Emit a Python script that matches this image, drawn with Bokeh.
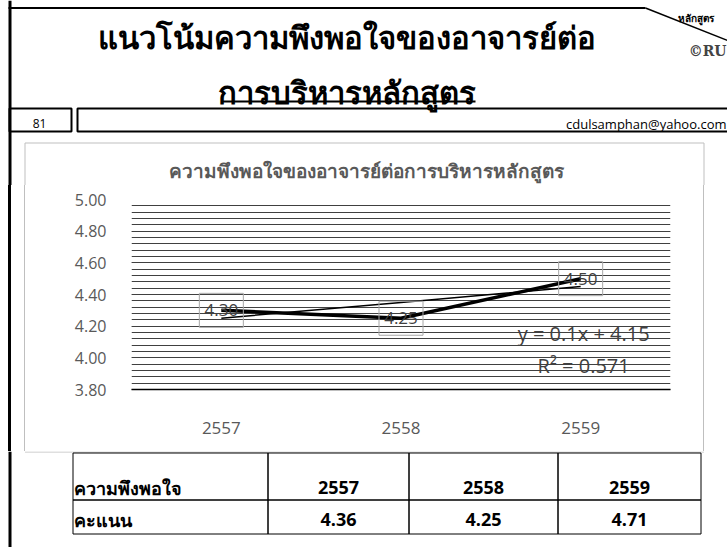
import numpy as np
from bokeh.plotting import figure
from bokeh.layouts import column, row
from bokeh.models import (Range1d, FactorRange, SingleIntervalTicker, NumeralTickFormatter,
                          ColumnDataSource)
from bokeh.core.properties import value
from bokeh.embed import file_html
from bokeh.resources import INLINE

# ---------------- data ----------------
years = ["2557", "2558", "2559"]
satisfaction = [4.30, 4.25, 4.50]
point_labels = ["4.30", "4.25", "4.50"]
y_min, y_max, y_step = 3.80, 5.00, 0.20

slide_title_1 = "แนวโน้มความพึงพอใจของอาจารย์ต่อ"
slide_title_2 = "การบริหารหลักสูตร"
chart_title = "ความพึงพอใจของอาจารย์ต่อการบริหารหลักสูตร"
slide_number = "81"
email = "cdulsamphan@yahoo.com"
corner_tag = "หลักสูตร"
logo_text = "©RU"

table_header = ["ความพึงพอใจ", "2557", "2558", "2559"]
table_scores = ["คะแนน", "4.36", "4.25", "4.71"]

# linear trend (as computed by the spreadsheet)
idx = np.arange(1, len(satisfaction) + 1)
slope, intercept = np.polyfit(idx, satisfaction, 1)
trend = list(intercept + slope * idx)
obs = np.array(satisfaction)
r2 = 1 - ((obs - np.array(trend)) ** 2).sum() / ((obs - obs.mean()) ** 2).sum()
eq_text = f"y = {slope:.1f}x + {intercept:.2f}"
r2_text = f"R² = {r2:.3f}"

FONT = "Open Sans"
GREY = "#595959"
BORDER = "#bfbfbf"
W = 727


def deco(width, height):
    """A drawing surface whose frame fills the whole canvas (pixel coordinates, y down)."""
    f = figure(width=width, height=height, output_backend="svg", toolbar_location=None,
               x_range=Range1d(0, width), y_range=Range1d(height, 0),
               x_axis_location=None, y_axis_location=None,
               min_border_left=0, min_border_right=0, min_border_top=0, min_border_bottom=0)
    f.outline_line_color = None
    f.grid.visible = False
    f.background_fill_color = "white"
    f.border_fill_color = "white"
    return f


def txt(f, x, y, s, size, align="center", baseline="middle", bold=False, color="black", font=FONT):
    f.text(x=[x], y=[y], text=[s], text_align=align, text_baseline=baseline,
           text_font=value(font), text_font_size=f"{size}px",
           text_font_style="bold" if bold else "normal", text_color=color)


def rect(f, l, r, t, b, line="black", lw=1, fill=None):
    f.quad(left=[l], right=[r], top=[t], bottom=[b],
           fill_color=fill, fill_alpha=1 if fill else 0,
           line_color=line, line_width=lw, line_alpha=1 if line else 0)


# ---------------- top: slide header + chart title (page y 0..185) ----------------
TOP_H = 185
A = deco(W, TOP_H)
rect(A, 8, 11, 0, TOP_H, line=None, fill="black")          # slide left frame
rect(A, 8, 645, 6.5, 8.5, line=None, fill="black")         # slide top frame
A.segment(x0=[645], y0=[7.5], x1=[727], y1=[40], line_color="black", line_width=1.5)
txt(A, 695, 17, corner_tag, 10, bold=True)
txt(A, 726, 50, logo_text, 14, align="right", bold=True, color="#444444", font="DejaVu Serif")
txt(A, 346, 36, slide_title_1, 31, baseline="alphabetic", bold=True)
txt(A, 346, 91, slide_title_2, 31, baseline="alphabetic", bold=True)
rect(A, 222, 475, 100, 102, line=None, fill="black")       # underline
rect(A, 9, 71, 108, 131, lw=2)
rect(A, 77, 740, 108, 131, lw=2)
txt(A, 39, 123, slide_number, 12)
txt(A, 726, 123, email, 13, align="right")
A.line(x=[24.5, 24.5, 703.5, 703.5], y=[TOP_H, 142.5, 142.5, TOP_H], line_color=BORDER, line_width=1)
txt(A, 366, 170, chart_title, 19, bold=True, color=GREY)

# ---------------- middle: chart (page y 185..451) ----------------
MID_H = 266
side_lines = ("linear-gradient(to right, white 0px, white 8px, black 8px, black 11px, "
              "white 11px, white 24px, #bfbfbf 24px, #bfbfbf 25px, white 25px, white 703px, "
              "#bfbfbf 703px, #bfbfbf 704px, white 704px)")
p = figure(width=W, height=MID_H, output_backend="svg", toolbar_location=None,
           x_range=FactorRange(*years), y_range=Range1d(y_min, y_max),
           min_border_left=131, min_border_right=57, min_border_top=14, min_border_bottom=62,
           styles={"background": side_lines})
p.outline_line_color = None
p.background_fill_color = "white"
p.border_fill_color = None

p.yaxis.ticker = SingleIntervalTicker(interval=y_step, num_minor_ticks=5)
p.yaxis.formatter = NumeralTickFormatter(format="0.00")
p.yaxis.axis_line_color = None
p.yaxis.major_tick_line_color = None
p.yaxis.minor_tick_line_color = None
p.yaxis.major_tick_out = 0
p.yaxis.major_label_standoff = 21
p.yaxis.major_label_text_font = FONT
p.yaxis.major_label_text_font_size = "16px"
p.yaxis.major_label_text_color = GREY

p.xaxis.axis_line_color = "black"
p.xaxis.axis_line_width = 1.5
p.xaxis.major_tick_line_color = None
p.xaxis.minor_tick_line_color = None
p.xaxis.major_tick_out = 0
p.xaxis.major_label_standoff = 32
p.xaxis.major_label_text_font = FONT
p.xaxis.major_label_text_font_size = "17px"
p.xaxis.major_label_text_color = GREY

p.xgrid.grid_line_color = None
p.ygrid.grid_line_color = "#404040"
p.ygrid.grid_line_width = 1
p.ygrid.minor_grid_line_color = "#404040"
p.ygrid.minor_grid_line_width = 1

src = ColumnDataSource(dict(x=years, y=satisfaction, lab=point_labels, t=trend))
p.line("x", "t", source=src, line_color="black", line_width=1.5)
p.line("x", "y", source=src, line_color="black", line_width=3.5)
p.rect("x", "y", width=44, height=34, width_units="screen", height_units="screen",
       source=src, fill_color=None, line_color="#a6a6a6", line_width=1)
p.text("x", "y", text="lab", source=src, text_align="center", text_baseline="middle",
       text_font=value(FONT), text_font_size="17px", text_color="#404040")
# trendline equation, anchored to the last category
p.text(x=[years[-1]], y=[y_min], text=[eq_text], x_offset=3, y_offset=-56,
       text_align="center", text_baseline="middle",
       text_font=value(FONT), text_font_size="20px", text_color="#404040")
p.text(x=[years[-1]], y=[y_min], text=[r2_text], x_offset=3, y_offset=-24,
       text_align="center", text_baseline="middle",
       text_font=value(FONT), text_font_size="20px", text_color="#404040")

# ---------------- bottom: table (page y 451..547) ----------------
BOT_H = 96
C = deco(W, BOT_H)
rect(C, 8, 11, 0, BOT_H, line=None, fill="black")
C.segment(x0=[24.5], y0=[0.5], x1=[703.5], y1=[0.5], line_color=BORDER, line_width=1)
cols = [72.5, 267.5, 408.5, 557.5, 700.5]
rows_y = [1.5, 48.5, 82.5]
for r in range(2):
    for c in range(4):
        rect(C, cols[c], cols[c + 1], rows_y[r], rows_y[r + 1], lw=1)
text_y = [36, 68]
for r, cells in enumerate([table_header, table_scores]):
    for c, s in enumerate(cells):
        if c == 0:
            txt(C, cols[0] + 1, text_y[r], s, 18, align="left", bold=True)
        else:
            txt(C, (cols[c] + cols[c + 1]) / 2, text_y[r], s, 18, bold=True)

layout = column(A, row(p, spacing=0), C, spacing=0)
open("out.html", "w").write(file_html(layout, INLINE))
